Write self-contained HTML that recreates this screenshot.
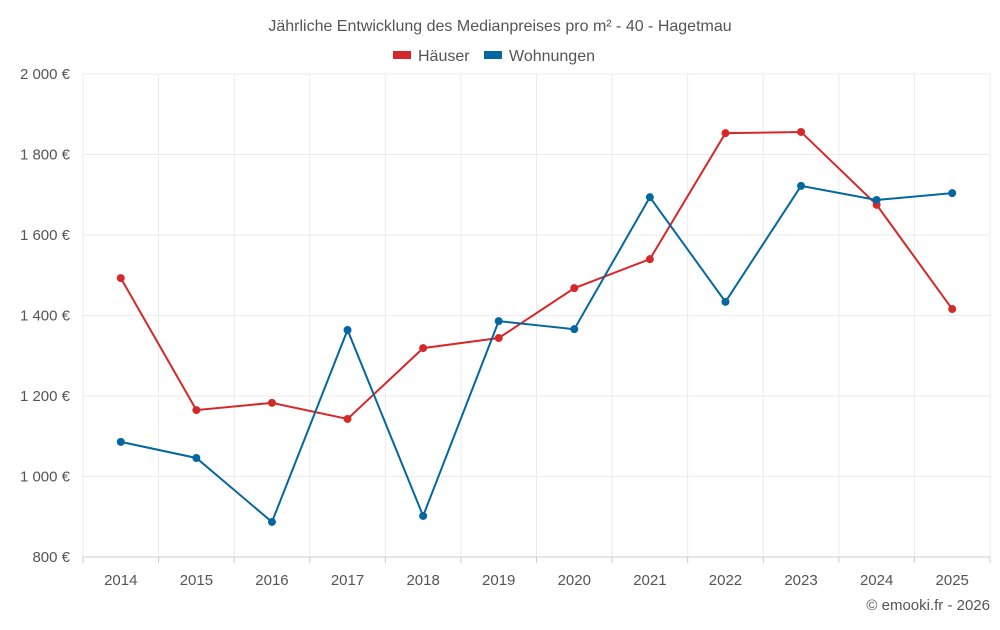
<!DOCTYPE html>
<html><head><meta charset="utf-8"><style>
body{margin:0;background:#fff;font-family:"Liberation Sans",sans-serif;}
svg text{font-family:"Liberation Sans",sans-serif;fill:#555;}
</style></head><body>
<svg id="chart" width="1000" height="625">
<text x="500" y="31" text-anchor="middle" font-size="16">Jährliche Entwicklung des Medianpreises pro m² - 40 - Hagetmau</text>
<g>
<g><rect x="393" y="51" width="18" height="8" fill="#d62828"/><text x="418" y="61" font-size="16">Häuser</text></g>
<g><rect x="484" y="51" width="18" height="8" fill="#04679f"/><text x="509" y="61" font-size="16">Wohnungen</text></g>
</g>
<g id="grid"></g><g id="axes"></g><g id="series"></g>
<text x="990" y="610" text-anchor="end" font-size="15">© emooki.fr - 2026</text>
</svg>
<script>
const years=[2014,2015,2016,2017,2018,2019,2020,2021,2022,2023,2024,2025];
const haeuser=[1493,1165,1183,1143,1319,1344,1468,1540,1853,1856,1675,1416];
const wohnungen=[1086,1046,887,1364,902,1386,1366,1694,1434,1722,1687,1704];
const yTicks=[800,1000,1200,1400,1600,1800,2000];
const yTickLabels=["800 €","1 000 €","1 200 €","1 400 €","1 600 €","1 800 €","2 000 €"];
const NS="http://www.w3.org/2000/svg";
const L=83,R=990,T=74,B=557,yMin=800,yMax=2000;
const step=(R-L)/years.length;
const x=i=>L+step*(i+0.5);
const y=v=>B-(v-yMin)/(yMax-yMin)*(B-T);
function mk(tag,attrs,parent){const e=document.createElementNS(NS,tag);for(const k in attrs)e.setAttribute(k,attrs[k]);parent.appendChild(e);return e;}
const grid=document.getElementById('grid'),axes=document.getElementById('axes'),series=document.getElementById('series');
yTicks.forEach((v,i)=>{
 const ln=mk('line',{x1:L,x2:R,y1:y(v),y2:y(v),stroke:i==0?'#ccc':'#ebebeb'},grid);
 
 
 const t=mk('text',{x:L-13,y:y(v)+5,'text-anchor':'end','font-size':15},axes);
 t.textContent=yTickLabels[i];
 
 
});
for(let i=0;i<=years.length;i++){
 const gx=L+step*i;
 const ln=mk('line',{x1:gx,x2:gx,y1:T,y2:B+(i==0||i==years.length?0:0),stroke:'#ebebeb'},grid);
 
 
 const tk=mk('line',{x1:gx,x2:gx,y1:B,y2:B+6,stroke:'#ccc'},grid);
 
 
}
years.forEach((yr,i)=>{
 const t=mk('text',{x:x(i),y:585,'text-anchor':'middle','font-size':15},axes);
 t.textContent=yr;
 
 
});
function draw(vals,color,name){
 const p=mk('polyline',{points:vals.map((v,i)=>x(i)+','+y(v)).join(' '),fill:'none',stroke:color,'stroke-width':2},series);
 
 
 vals.forEach((v,i)=>{
  const c=mk('circle',{cx:x(i),cy:y(v),r:4,fill:color},series);
  
  
 });
}
draw(haeuser,'#d62828','haeuser');
draw(wohnungen,'#04679f','wohnungen');
</script>
</body></html>
